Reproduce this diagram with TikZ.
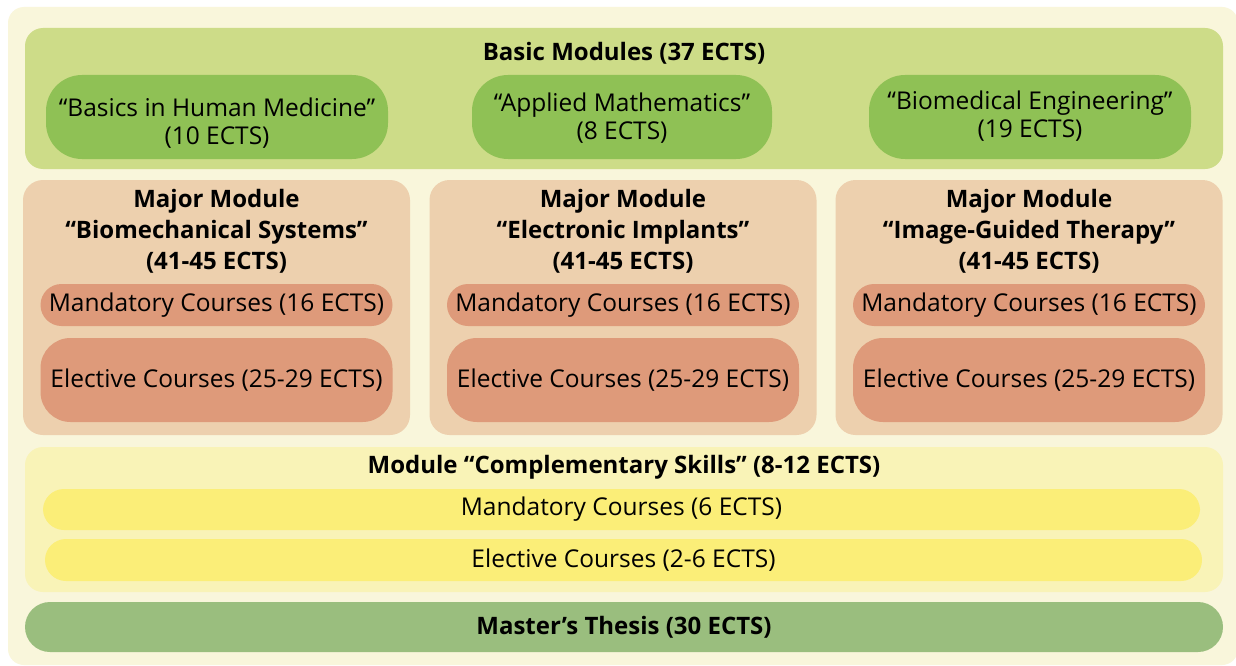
\documentclass[tikz,border=0pt]{standalone}
\usepackage{fontspec}
\setmainfont{Open Sans}
\definecolor{outerbg}{HTML}{F9F6DB}
\definecolor{basicbg}{HTML}{CDDC88}
\definecolor{greenpill}{HTML}{8FC155}
\definecolor{majorbg}{HTML}{EDD0AE}
\definecolor{majorpill}{HTML}{DE9A7A}
\definecolor{compbg}{HTML}{F9F3B7}
\definecolor{yellowpill}{HTML}{FBEE78}
\definecolor{thesisbg}{HTML}{9ABE7E}
\tikzset{
  box/.style={rectangle, draw=none, inner sep=0pt, align=center, font=\fontsize{24.5}{28}\selectfont},
  plain/.style={inner sep=0pt, align=center, font=\fontsize{24.5}{28.5}\selectfont},
  titletext/.style={inner sep=0pt, align=center, font=\fontsize{24}{31}\selectfont\bfseries},
}
\begin{document}
\begin{tikzpicture}[x=1pt,y=-1pt]
\useasboundingbox (0,0) rectangle (1236,666);
\fill[white] (0,0) rectangle (1236,666);
\fill[outerbg, rounded corners=16pt] (8,7) rectangle (1238,665);
% basic modules
\node[box, fill=basicbg, rounded corners=18pt, minimum width=1198pt, minimum height=141pt] (basic) at (624,98.5) {};
\node[titletext] (basictitle) at (624,53) {Basic Modules (37 ECTS)};
\node[box, fill=greenpill, rounded corners=36pt, minimum width=342pt, minimum height=84pt] (med) at (217,117) {};
\node[box, fill=greenpill, rounded corners=36pt, minimum width=300pt, minimum height=84pt] (math) at (622,117) {};
\node[box, fill=greenpill, rounded corners=36pt, minimum width=322pt, minimum height=84pt] (eng) at (1030,117) {};
\node[plain] (medtext) at ([yshift=-6pt]med.center) {“Basics in Human Medicine”\\(10 ECTS)};
\node[plain] (mathtext) at ([yshift=-1pt]math.center) {“Applied Mathematics”\\(8 ECTS)};
\node[plain] (engtext) at ([yshift=1pt]eng.center) {“Biomedical Engineering”\\(19 ECTS)};
% major modules
\foreach \cx/\nm/\ttl in {216.5/bio/Biomechanical Systems, 623/ele/Electronic Implants, 1029/img/Image-Guided Therapy}{
  \node[box, fill=majorbg, rounded corners=20pt, minimum width=387pt, minimum height=255pt] (\nm) at (\cx,307.5) {};
  \node[titletext] (\nm title) at (\cx,231.5) {Major Module\\“\ttl”\\(41-45 ECTS)};
  \node[box, fill=majorpill, rounded corners=21pt, minimum width=352pt, minimum height=42pt] (\nm man) at (\cx,305) {Mandatory Courses (16 ECTS)};
  \node[box, fill=majorpill, rounded corners=30pt, minimum width=352pt, minimum height=84pt] (\nm ele) at (\cx,380) {Elective Courses (25-29 ECTS)};
}
% complementary
\node[box, fill=compbg, rounded corners=18pt, minimum width=1198pt, minimum height=145pt] (comp) at (624,519.5) {};
\node[titletext] (comptitle) at (624,467) {Module “Complementary Skills” (8-12 ECTS)};
\node[box, fill=yellowpill, rounded corners=21pt, minimum width=1157pt, minimum height=41pt] (cman) at (621.5,509.5) {Mandatory Courses (6 ECTS)};
\node[box, fill=yellowpill, rounded corners=21pt, minimum width=1157pt, minimum height=42pt] (cele) at (623.5,560) {Elective Courses (2-6 ECTS)};
% thesis
\node[box, fill=thesisbg, rounded corners=25pt, minimum width=1198pt, minimum height=50pt, font=\fontsize{24}{28}\selectfont\bfseries] (thesis) at (624,627) {Master’s Thesis (30 ECTS)};
\end{tikzpicture}
\end{document}
